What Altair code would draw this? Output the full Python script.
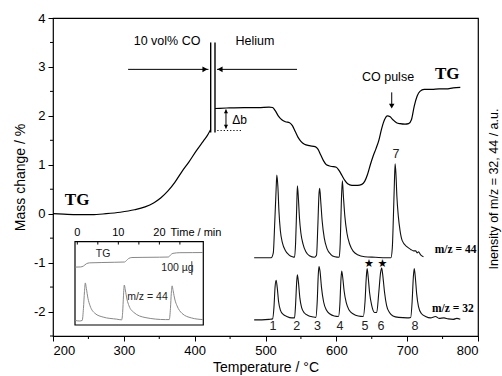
import altair as alt
import pandas as pd

# ---------------- data ----------------
# TG curve, heating in 10 vol% CO (temperature in °C, mass change in %)
tg_ramp_T = [200, 215, 235, 255, 275, 295, 315, 330, 342, 352, 362, 372, 382, 392, 402, 412, 418, 422.6]
tg_ramp_m = [0.00, -0.01, -0.02, -0.02, 0.00, 0.03, 0.08, 0.14, 0.22, 0.32, 0.46, 0.64, 0.86, 1.06, 1.28, 1.48, 1.60, 1.72]
# TG curve in helium with CO pulses
tg_he_T = [428.7, 445, 470, 490, 505, 510, 514, 518, 523, 528, 534, 538, 542, 546, 550, 555, 562, 570,
           574, 578, 582, 586, 592, 600, 604, 608, 612, 616, 622, 630, 636, 640, 644, 648, 652, 656,
           660, 664, 668, 672, 676, 680, 685, 690, 697, 702, 706, 710, 714, 718, 724, 735, 745, 755, 765, 775]
tg_he_m = [2.15, 2.16, 2.17, 2.17, 2.18, 2.17, 2.10, 2.00, 1.92, 1.88, 1.86, 1.80, 1.68, 1.56, 1.48, 1.42, 1.39, 1.37,
           1.32, 1.20, 1.08, 1.00, 0.97, 0.95, 0.88, 0.78, 0.68, 0.61, 0.58, 0.58, 0.60, 0.66, 0.80, 1.00, 1.18, 1.33,
           1.50, 1.74, 1.92, 2.00, 1.98, 1.92, 1.86, 1.84, 1.83, 1.84, 1.92, 2.20, 2.40, 2.50, 2.54, 2.54, 2.55, 2.55, 2.57, 2.58]

# MS traces (a.u.)
ms44_T = [484, 500, 508, 511, 513, 515, 516, 517.5, 519, 521, 524, 528, 533, 538,
          541, 542.5, 544, 545, 546.5, 548, 550, 553, 557, 562, 569,
          572, 574, 575.5, 576.5, 578, 580, 583, 587, 592, 598, 604,
          605.5, 607, 608.5, 610, 612, 615, 619, 624, 630, 640, 655, 670, 677,
          679, 680.5, 682, 683, 684.2, 685.5, 687.5, 690, 693, 700, 705, 709, 712, 714, 716, 719, 723]
ms44_v = [-0.90, -0.90, -0.90, -0.80, -0.20, 0.50, 0.79, 0.55, 0.05, -0.35, -0.60, -0.75, -0.84, -0.88,
          -0.89, -0.60, 0.10, 0.57, 0.30, -0.10, -0.40, -0.62, -0.78, -0.86, -0.89,
          -0.85, -0.20, 0.40, 0.52, 0.25, -0.15, -0.50, -0.72, -0.83, -0.88, -0.89,
          -0.60, 0.20, 0.67, 0.35, -0.05, -0.40, -0.63, -0.77, -0.84, -0.88, -0.89, -0.90, -0.90,
          -0.70, -0.10, 0.65, 1.02, 0.80, 0.35, -0.05, -0.35, -0.55, -0.68, -0.73, -0.76, -0.76, -0.80, -0.78, -0.84, -0.88]

ms32_T = [484, 495, 505, 510, 512, 513.5, 515, 516.5, 518.5, 521, 525, 530, 537,
          541, 542.5, 544, 545, 546.5, 548.5, 551, 555, 560, 567,
          571, 573, 574.5, 575.5, 577, 579, 582, 586, 591, 597,
          603, 605, 606.5, 607.6, 609, 611, 614, 618, 624, 631,
          638, 640.5, 642.3, 643.5, 645, 647, 650, 654,
          657, 660, 662.5, 664, 665.5, 668, 671, 675, 680, 688,
          700, 705, 707, 708.7, 710, 711.5, 713.5, 716, 720, 726,
          733, 740, 745, 752, 758, 765, 770, 775]
ms32_v = [-2.17, -2.17, -2.16, -2.15, -1.90, -1.50, -1.36, -1.50, -1.80, -1.97, -2.06, -2.10, -2.13,
          -2.13, -1.85, -1.40, -1.25, -1.40, -1.72, -1.92, -2.03, -2.08, -2.11,
          -2.12, -1.80, -1.25, -1.08, -1.18, -1.50, -1.80, -1.97, -2.05, -2.09,
          -2.10, -1.85, -1.35, -1.17, -1.30, -1.58, -1.82, -1.97, -2.05, -2.09,
          -2.10, -1.80, -1.30, -1.12, -1.30, -1.62, -1.88, -2.02,
          -2.02, -1.60, -1.20, -1.11, -1.25, -1.60, -1.88, -2.02, -2.09, -2.12,
          -2.13, -2.12, -1.80, -1.30, -1.12, -1.30, -1.65, -1.90, -2.04, -2.10,
          -2.13, -2.10, -2.14, -2.13, -2.15, -2.16, -2.14, -2.16]

peak_labels = ["1", "2", "3", "4", "5", "6", "7", "8"]
peak_label_T = [510.6, 544, 573.2, 605.2, 640.5, 663.1, 684.3, 711]
peak_label_v = [-2.29, -2.29, -2.29, -2.29, -2.29, -2.29, 1.23, -2.29]
star_T = [646, 665]
star_v = [-1.03, -1.03]

# inset: isothermal CO pulses (time in min, arbitrary units)
in_tg_t = [-0.5, 0.8, 1.5, 2.2, 3.0, 6, 9, 11.5, 12.0, 12.5, 13.3, 16, 20, 22.2, 22.7, 23.3, 25, 28, 30.6]
in_tg_y = [69.5, 69.7, 70.8, 73.5, 74.6, 75.0, 75.3, 75.6, 77.5, 79.8, 81.0, 81.2, 81.4, 81.6, 84.0, 86.0, 86.8, 86.9, 87.0]
in_ms_t = [-0.5, 0.5, 1.2, 1.5, 1.75, 1.95, 2.2, 2.6, 3.1, 4.3, 6.3, 9.6,
           10.8, 11.05, 11.25, 11.45, 11.7, 12.1, 12.6, 13.8, 16.5, 21.5,
           22.4, 22.7, 22.9, 23.1, 23.35, 23.8, 24.3, 25.5, 27.8, 30.6]
in_ms_y = [5.5, 4.8, 5.5, 20, 40, 50.5, 44, 32, 23.2, 14, 9.5, 7.0,
           6.2, 15, 35, 48, 42, 31, 23, 15, 9, 6.5,
           6.5, 20, 38, 47, 41, 30, 23, 14, 8.5, 6.5]
in_ticks = [0, 5, 10, 15, 20, 25]
in_tick_labels_t = [0, 10, 20]
in_tick_labels = ["0", "10", "20"]

x_ticks = [200, 300, 400, 500, 600, 700, 800]
x_minor = [250, 350, 450, 550, 650, 750]
y_ticks = [-2, -1, 0, 1, 2, 3, 4]
y_minor = [-2.5, -1.5, -0.5, 0.5, 1.5, 2.5, 3.5]

# ---------------- chart ----------------
W, H = 425, 318
SANS = "Liberation Sans"
SERIF = "Liberation Serif"

xsc = alt.Scale(domain=[200, 800], nice=False, zero=False)
ysc = alt.Scale(domain=[-2.5, 4], nice=False, zero=False)

x_axis = alt.Axis(values=x_ticks, title="Temperature  /  °C", labelExpr="'' + datum.value",
                  domain=False, grid=False, tickSize=5, tickColor="black", tickWidth=1,
                  labelFont=SANS, labelFontSize=13, labelColor="black", labelPadding=3,
                  titleFont=SANS, titleFontSize=14, titleFontWeight="normal", titleColor="black",
                  titlePadding=3)
y_axis = alt.Axis(values=y_ticks, title="Mass change  /  %", labelExpr="'' + datum.value",
                  domain=False, grid=False, tickSize=5, tickColor="black", tickWidth=1,
                  labelFont=SANS, labelFontSize=13, labelColor="black", labelPadding=3,
                  titleFont=SANS, titleFontSize=14, titleFontWeight="normal", titleColor="black",
                  titlePadding=6)

tg_df = pd.DataFrame({
    "T": tg_ramp_T + tg_he_T,
    "m": tg_ramp_m + tg_he_m,
    "seg": ["ramp"] * len(tg_ramp_T) + ["he"] * len(tg_he_T),
})
tg = alt.Chart(tg_df).mark_line(color="black", strokeWidth=1.2, interpolate="monotone").encode(
    x=alt.X("T:Q", scale=xsc, axis=x_axis),
    y=alt.Y("m:Q", scale=ysc, axis=y_axis),
    detail="seg:N",
)

# minor ticks
xminor = alt.Chart(pd.DataFrame({"T": x_minor})).mark_rule(color="black", strokeWidth=1).encode(
    x="T:Q", y=alt.value(H), y2=alt.value(H + 3))
yminor = alt.Chart(pd.DataFrame({"m": y_minor})).mark_rule(color="black", strokeWidth=1).encode(
    y="m:Q", x=alt.value(0), x2=alt.value(-3))

# gas switch lines
switch = alt.Chart(pd.DataFrame({"T": [422.6, 428.7], "m": [1.66, 1.66], "m2": [3.5, 3.5]})).mark_rule(
    color="black", strokeWidth=1.4).encode(x="T:Q", y="m:Q", y2="m2:Q")
harrows = alt.Chart(pd.DataFrame({"T": [306, 544.5], "T2": [419.5, 431.5], "m": [2.95, 2.95]})).mark_rule(
    color="black", strokeWidth=1).encode(x="T:Q", x2="T2:Q", y="m:Q")
heads = alt.Chart(pd.DataFrame({
    "T": [414.6, 435.8, 444.2, 444.2, 678.2],
    "m": [2.95, 2.95, 2.09, 1.78, 2.20],
    "shape": ["triangle-right", "triangle-left", "triangle-up", "triangle-down", "triangle-down"],
    "size": [35, 35, 18, 18, 30],
})).mark_point(filled=True, color="black", opacity=1).encode(
    x="T:Q", y="m:Q", shape=alt.Shape("shape:N", scale=None), size=alt.Size("size:Q", scale=None))
db_rule = alt.Chart(pd.DataFrame({"T": [444.2], "m": [1.74], "m2": [2.13]})).mark_rule(
    color="black", strokeWidth=1).encode(x="T:Q", y="m:Q", y2="m2:Q")
dotted = alt.Chart(pd.DataFrame({"T": [432], "T2": [468], "m": [1.70]})).mark_rule(
    color="black", strokeWidth=1, strokeDash=[1.2, 2]).encode(x="T:Q", x2="T2:Q", y="m:Q")
pulse_rule = alt.Chart(pd.DataFrame({"T": [678.2], "m": [2.48], "m2": [2.24]})).mark_rule(
    color="black", strokeWidth=1).encode(x="T:Q", y="m:Q", y2="m2:Q")

ann = alt.Chart(pd.DataFrame({
    "T": [361, 485.2, 673],
    "m": [3.54, 3.54, 2.80],
    "txt": ["10 vol% CO", "Helium", "CO pulse"],
})).mark_text(font=SANS, fontSize=12.5, color="black", align="center", baseline="middle").encode(
    x="T:Q", y="m:Q", text="txt:N")
db_txt = alt.Chart(pd.DataFrame({"T": [453], "m": [1.92], "txt": ["Δb"]})).mark_text(
    font=SANS, fontSize=12, color="black", align="left", baseline="middle").encode(
    x="T:Q", y="m:Q", text="txt:N")
tg_txt = alt.Chart(pd.DataFrame({"T": [234, 756.5], "m": [0.27, 2.86], "txt": ["TG", "TG"]})).mark_text(
    font=SERIF, fontSize=17, fontWeight="bold", color="black", align="center", baseline="middle").encode(
    x="T:Q", y="m:Q", text="txt:N")

main = alt.layer(tg, xminor, yminor, switch, harrows, heads, db_rule, dotted, pulse_rule, ann, db_txt, tg_txt)

# ---- MS group (right-hand intensity scale) ----
msx = alt.Scale(domain=[200, 800], nice=False, zero=False)
msy = alt.Scale(domain=[-2.5, 4], nice=False, zero=False)
ms_df = pd.DataFrame({
    "T": ms44_T + ms32_T,
    "v": ms44_v + ms32_v,
    "trace": ["44"] * len(ms44_T) + ["32"] * len(ms32_T),
})
ms = alt.Chart(ms_df).mark_line(color="#111111", strokeWidth=1.1, interpolate="monotone").encode(
    x=alt.X("T:Q", scale=msx, axis=None),
    y=alt.Y("v:Q", scale=msy, axis=None),
    detail="trace:N",
)
nums = alt.Chart(pd.DataFrame({"T": peak_label_T, "v": peak_label_v, "txt": peak_labels})).mark_text(
    font=SANS, fontSize=12.5, color="#222222", align="center", baseline="middle").encode(
    x="T:Q", y="v:Q", text="txt:N")
stars = alt.Chart(pd.DataFrame({"T": star_T, "v": star_v, "txt": ["★", "★"]})).mark_text(
    font="DejaVu Sans", fontSize=11, color="black", align="center", baseline="middle").encode(
    x="T:Q", y="v:Q", text="txt:N")
mz = alt.Chart(pd.DataFrame({"T": [739, 735], "v": [-0.74, -1.94], "txt": ["m/z = 44", "m/z = 32"]})).mark_text(
    font=SERIF, fontSize=11.5, fontWeight="bold", color="black", align="left", baseline="middle").encode(
    x="T:Q", y="v:Q", text="txt:N")
right_title = alt.Chart(pd.DataFrame({"txt": ["Inensity of m/z = 32, 44  /  a.u."]})).mark_text(
    font=SANS, fontSize=12.5, color="black", angle=270, align="center", baseline="middle").encode(
    x=alt.value(W + 16), y=alt.value(H / 2 + 12), text="txt:N")
ms_group = alt.layer(ms, nums, stars, mz, right_title)

# ---- inset ----
ix = alt.Scale(domain=[-0.56, 30.7], range=[22, 150.3], nice=False, zero=False)
iy = alt.Scale(domain=[0, 100], range=[307, 223.7], nice=False, zero=False)
frame = alt.Chart(pd.DataFrame({"t": [-0.56], "t2": [30.7], "y": [0], "y2": [100]})).mark_rect(
    filled=False, stroke="black", strokeWidth=1.2).encode(
    x=alt.X("t:Q", scale=ix, axis=None), x2="t2:Q",
    y=alt.Y("y:Q", scale=iy, axis=None), y2="y2:Q")
in_df = pd.DataFrame({
    "t": in_tg_t + in_ms_t,
    "y": in_tg_y + in_ms_y,
    "trace": ["tg"] * len(in_tg_t) + ["ms"] * len(in_ms_t),
})
in_lines = alt.Chart(in_df).mark_line(color="#888888", strokeWidth=1, interpolate="monotone").encode(
    x="t:Q", y="y:Q", detail="trace:N")
in_tick = alt.Chart(pd.DataFrame({"t": in_ticks, "y": [100] * len(in_ticks), "y2": [96.6] * len(in_ticks)})).mark_rule(
    color="black", strokeWidth=1).encode(x="t:Q", y="y:Q", y2="y2:Q")
in_tl = alt.Chart(pd.DataFrame({"t": in_tick_labels_t, "y": [111, 111, 111], "txt": in_tick_labels})).mark_text(
    font=SANS, fontSize=11, color="black", align="center", baseline="middle").encode(
    x="t:Q", y="y:Q", text="txt:N")
in_title = alt.Chart(pd.DataFrame({"t": [22.7], "y": [111], "txt": ["Time / min"]})).mark_text(
    font=SANS, fontSize=11, color="black", align="left", baseline="middle").encode(
    x="t:Q", y="y:Q", text="txt:N")
in_txt = alt.Chart(pd.DataFrame({
    "t": [6.3, 24.4, 17.1], "y": [85.5, 69, 33.4], "txt": ["TG", "100 µg", "m/z = 44"]})).mark_text(
    font=SANS, fontSize=10.5, color="#222222", align="center", baseline="middle").encode(
    x="t:Q", y="y:Q", text="txt:N")
in_bar = alt.Chart(pd.DataFrame({"t": [27.9], "y": [60], "y2": [76.6]})).mark_rule(
    color="#444444", strokeWidth=1).encode(x="t:Q", y="y:Q", y2="y2:Q")
inset = alt.layer(frame, in_lines, in_tick, in_tl, in_title, in_txt, in_bar)

chart = alt.layer(main, ms_group, inset).resolve_scale(x="independent", y="independent").properties(
    width=W, height=H,
    autosize=alt.AutoSizeParams(type="none"),
    padding={"left": 53, "top": 18, "right": 24, "bottom": 40},
    background="white",
).configure_view(stroke="black", strokeWidth=1.2)

chart.save("out.html", embed_options={"renderer": "svg", "actions": False})
